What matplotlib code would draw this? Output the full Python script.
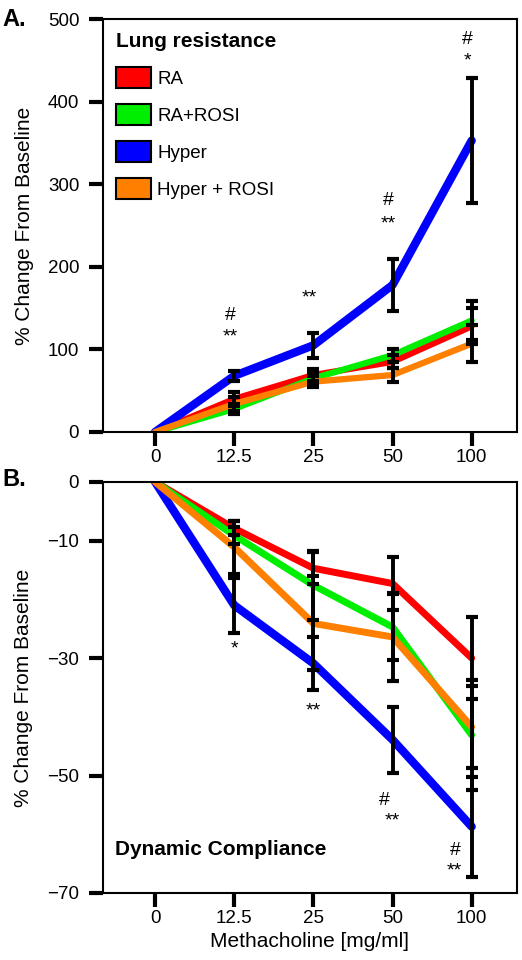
import matplotlib.pyplot as plt
import matplotlib.patches as mpatches
import numpy as np

plt.rcParams['font.family'] = ['Liberation Sans', 'DejaVu Sans']

doses = ['0', '12.5', '25', '50', '100']
groups = ['RA', 'RA+ROSI', 'Hyper', 'Hyper + ROSI']
colors = ['#ff0000', '#00ee00', '#0000ff', '#ff8000']

# panel A: lung resistance
ra_res = [0, 40, 69, 85, 128]
rarosi_res = [0, 28, 65, 93, 135]
hyper_res = [0, 68, 105, 178, 353]
hrosi_res = [0, 34, 61, 69, 107]
ra_res_err = [0, 8, 7, 8, 22]
rarosi_res_err = [0, 6, 6, 8, 24]
hyper_res_err = [0, 6, 15, 32, 76]
hrosi_res_err = [0, 8, 7, 8, 22]

# panel B: dynamic compliance
ra_cdyn = [0, -7.9, -14.7, -17.3, -30.0]
rarosi_cdyn = [0, -9.1, -17.6, -24.7, -43.1]
hyper_cdyn = [0, -21.0, -30.9, -43.9, -58.7]
hrosi_cdyn = [0, -11.1, -24.1, -26.4, -41.7]
ra_cdyn_err = [0, 1.2, 2.7, 4.5, 7.0]
rarosi_cdyn_err = [0, 1.5, 5.9, 5.6, 9.4]
hyper_cdyn_err = [0, 4.7, 4.5, 5.6, 8.5]
hrosi_cdyn_err = [0, 4.5, 8.0, 7.5, 7.0]

# significance marks (dose index, y, text)
marks_a = [(1, 141, '#'), (1, 115, '**'), (2, 162, '**'), (3, 281, '#'), (3, 252, '**'),
           (4, 475, '#'), (4, 450, '*')]
marks_b = [(1, -28.5, '*'), (2, -39.0, '**'), (2.9, -54.3, '#'), (3.0, -57.8, '**'),
           (3.8, -62.8, '#'), (3.78, -66.3, '**')]

fig = plt.figure(figsize=(5.22, 9.6), dpi=100)
axA = fig.add_axes([0.197, 0.55, 0.793, 0.43])
axB = fig.add_axes([0.197, 0.0698, 0.793, 0.4282])

x = np.arange(len(doses))


def draw(ax, series, errs, widths):
    for ys, c, w in zip(series, colors, widths):
        ax.plot(x, ys, color=c, lw=w, solid_capstyle='round', solid_joinstyle='round', zorder=2)
    for ys, es in zip(series, errs):
        ax.errorbar(x[1:], ys[1:], yerr=es[1:], fmt='none', ecolor='black', elinewidth=2.8,
                    capsize=4, capthick=3, zorder=3)
    ax.set_xlim(-0.66, 4.57)
    ax.set_xticks(x)
    ax.set_xticklabels(doses)
    for s in ax.spines.values():
        s.set_linewidth(1.5)
    ax.tick_params(axis='both', direction='out', length=10, width=3, labelsize=13.5)
    ax.tick_params(axis='y', pad=7)
    ax.tick_params(axis='x', pad=2)


draw(axA, [ra_res, rarosi_res, hyper_res, hrosi_res],
     [ra_res_err, rarosi_res_err, hyper_res_err, hrosi_res_err], [4.5, 4.5, 6, 4.5])
axA.set_ylim(0, 500)
axA.set_yticks([0, 100, 200, 300, 400, 500])
axA.set_ylabel('% Change From Baseline', fontsize=15, labelpad=10)
for i, yv, t in marks_a:
    axA.text(i - 0.05, yv, t, ha='center', va='center', fontsize=14)

handles = [mpatches.Patch(facecolor=c, edgecolor='black', linewidth=1.5, label=g)
           for c, g in zip(colors, groups)]
leg = axA.legend(handles=handles, loc='upper left', frameon=False, fontsize=13.5,
                 title='Lung resistance', title_fontproperties={'weight': 'bold', 'size': 15},
                 handlelength=1.85, handleheight=1.35, handletextpad=0.35, labelspacing=0.85,
                 borderaxespad=0.3, bbox_to_anchor=(0.0, 1.0))
leg._legend_box.align = 'left'

draw(axB, [ra_cdyn, rarosi_cdyn, hyper_cdyn, hrosi_cdyn],
     [ra_cdyn_err, rarosi_cdyn_err, hyper_cdyn_err, hrosi_cdyn_err], [5, 5, 6, 5])
axB.set_ylim(-70, 0)
axB.set_yticks([0, -10, -30, -50, -70])
axB.set_ylabel('% Change From Baseline', fontsize=15, labelpad=10)
axB.set_xlabel('Methacholine [mg/ml]', fontsize=15, labelpad=4)
for i, yv, t in marks_b:
    axB.text(i, yv, t, ha='center', va='center', fontsize=14)
axB.text(0.03, 0.105, 'Dynamic Compliance', transform=axB.transAxes, fontsize=15,
         fontweight='bold', ha='left', va='center')

fig.text(0.005, 0.992, 'A.', fontsize=17, fontweight='bold', ha='left', va='top')
fig.text(0.005, 0.512, 'B.', fontsize=17, fontweight='bold', ha='left', va='top')

fig.savefig('out.png', dpi=100)
